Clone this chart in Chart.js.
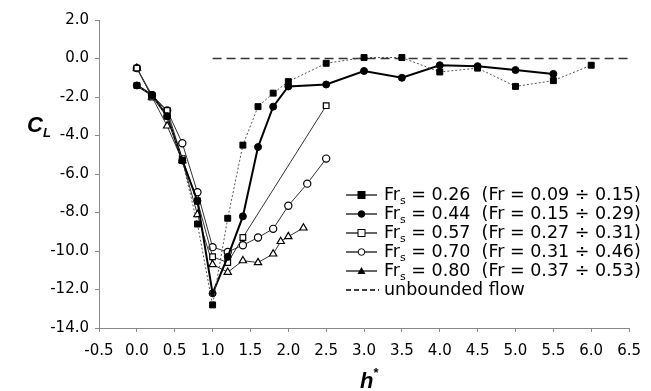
<!DOCTYPE html>
<html>
<head>
<meta charset="utf-8">
<script src="https://cdn.jsdelivr.net/npm/chart.js@4"></script>
<style>
  html, body { margin: 0; padding: 0; background: #fff; }
  #wrap { width: 651px; height: 391px; position: relative; }
</style>
</head>
<body>
<div id="wrap"><canvas id="grafico" width="651" height="391"></canvas></div>
<script>
// h* positions and C_L values for each Fr_s
const h026 = [0.0, 0.2, 0.4, 0.6, 0.8, 1.0, 1.2, 1.4, 1.6, 1.8, 2.0, 2.5, 3.0, 3.5, 4.0, 4.5, 5.0, 5.5, 6.0];
const cl026 = [-1.4, -1.9, -3.0, -5.3, -8.6, -12.8, -8.3, -4.5, -2.5, -1.8, -1.2, -0.25, 0.05, 0.05, -0.7, -0.5, -1.45, -1.15, -0.35];

const h044 = [0.0, 0.2, 0.4, 0.6, 0.8, 1.0, 1.2, 1.4, 1.6, 1.8, 2.0, 2.5, 3.0, 3.5, 4.0, 4.5, 5.0, 5.5];
const cl044 = [-1.4, -1.9, -3.0, -5.3, -7.4, -12.2, -10.3, -8.2, -4.6, -2.5, -1.45, -1.35, -0.65, -1.0, -0.35, -0.4, -0.6, -0.8];

const h057 = [0.0, 0.2, 0.4, 0.6, 0.8, 1.0, 1.2, 1.4, 2.5];
const cl057 = [-0.5, -2.0, -2.7, -5.2, -7.4, -10.3, -10.6, -9.3, -2.45];

const h070 = [0.0, 0.2, 0.4, 0.6, 0.8, 1.0, 1.2, 1.4, 1.6, 1.8, 2.0, 2.25, 2.5];
const cl070 = [-0.5, -1.9, -2.7, -4.4, -6.95, -9.8, -10.05, -9.7, -9.3, -8.85, -7.65, -6.5, -5.2];

const h080 = [0.0, 0.2, 0.4, 0.6, 0.8, 1.0, 1.2, 1.4, 1.6, 1.8, 1.9, 2.0, 2.2];
const cl080 = [-0.5, -2.0, -3.5, -5.3, -8.1, -10.7, -11.1, -10.5, -10.6, -10.15, -9.5, -9.25, -8.8];

const hUnbounded = [1.0, 6.5];
const clUnbounded = [0.0, 0.0];

const frsLabels = ['0.26', '0.44', '0.57', '0.70', '0.80'];
const frRanges = ['0.09 ÷ 0.15', '0.15 ÷ 0.29', '0.27 ÷ 0.31', '0.31 ÷ 0.46', '0.37 ÷ 0.53'];
const unboundedLabel = 'unbounded flow';

function pares(xs, ys) {
  return xs.map((x, i) => ({ x: x, y: ys[i] }));
}

const fonte = '"DejaVu Sans", "Liberation Sans", Arial, sans-serif';
const fonteTitulo = '"Liberation Sans", Arial, sans-serif';

// Legenda desenhada à mão (precisa de subscrito)
const legendaPlugin = {
  id: 'legenda',
  afterDraw(chart) {
    const c = chart.ctx;
    const x0 = 346, x1 = 377, xt = 384;
    const ys = [195, 214, 233, 252, 271, 290];
    c.save();
    chart.data.datasets.forEach((ds, i) => {
      if (i > 4) return;
      const y = ys[i];
      c.strokeStyle = '#000';
      c.lineWidth = 1.2;
      c.setLineDash([]);
      c.beginPath();
      c.moveTo(x0, y);
      c.lineTo(x1, y);
      c.stroke();
      const mx = (x0 + x1) / 2;
      c.fillStyle = ds.pointBackgroundColor === '#fff' ? '#fff' : '#000';
      c.lineWidth = 1;
      if (ds.pointStyle === 'rect') {
        c.fillRect(mx - 3.5, y - 3.5, 7, 7);
        c.strokeRect(mx - 3.5, y - 3.5, 7, 7);
      } else if (ds.pointStyle === 'circle') {
        c.beginPath();
        c.arc(mx, y, 3.3, 0, Math.PI * 2);
        c.fill();
        c.stroke();
      } else {
        c.fillStyle = '#000';
        c.beginPath();
        c.moveTo(mx, y - 4);
        c.lineTo(mx + 4, y + 3);
        c.lineTo(mx - 4, y + 3);
        c.closePath();
        c.fill();
      }
      c.fillStyle = '#000';
      c.textBaseline = 'middle';
      c.font = '17.5px ' + fonte;
      c.fillText('Fr', xt, y);
      let w = c.measureText('Fr').width;
      c.font = '11px ' + fonte;
      c.fillText('s', xt + w, y + 6);
      w += c.measureText('s').width;
      c.font = '17.5px ' + fonte;
      c.fillText(' = ' + frsLabels[i] + '  (Fr = ' + frRanges[i] + ')', xt + w, y);
    });
    // linha tracejada da legenda
    const y = ys[5];
    c.strokeStyle = '#000';
    c.lineWidth = 1.5;
    c.setLineDash([5, 3]);
    c.beginPath();
    c.moveTo(x0, y);
    c.lineTo(x1 + 2, y);
    c.stroke();
    c.setLineDash([]);
    c.fillStyle = '#000';
    c.textBaseline = 'middle';
    c.font = '17.5px ' + fonte;
    c.fillText(unboundedLabel, xt, y);

    // títulos dos eixos
    c.font = 'italic bold 22px ' + fonteTitulo;
    c.textBaseline = 'alphabetic';
    c.fillText('C', 27, 132);
    let wc = c.measureText('C').width;
    c.font = 'italic bold 13px ' + fonteTitulo;
    c.fillText('L', 27 + wc, 137);

    c.font = 'italic bold 22px ' + fonteTitulo;
    c.fillText('h', 360, 388);
    let wh = c.measureText('h').width;
    c.font = 'bold 13px ' + fonteTitulo;
    c.fillText('*', 360 + wh, 377);
    c.restore();
  }
};

const ctx = document.getElementById('grafico').getContext('2d');
const grafico = new Chart(ctx, {
  type: 'scatter',
  data: {
    datasets: [
      {
        label: 'Fr_s = 0.26',
        data: pares(h026, cl026),
        showLine: true,
        borderColor: '#555',
        borderWidth: 1,
        borderDash: [2, 2],
        pointStyle: 'rect',
        pointRadius: 4.2,
        pointBackgroundColor: '#000',
        pointBorderColor: '#000',
        pointBorderWidth: 1,
      },
      {
        label: 'Fr_s = 0.44',
        data: pares(h044, cl044),
        showLine: true,
        borderColor: '#000',
        borderWidth: 2,
        pointStyle: 'circle',
        pointRadius: 3.5,
        pointBackgroundColor: '#000',
        pointBorderColor: '#000',
        pointBorderWidth: 1,
      },
      {
        label: 'Fr_s = 0.57',
        data: pares(h057, cl057),
        showLine: true,
        borderColor: '#333',
        borderWidth: 1,
        pointStyle: 'rect',
        pointRadius: 4,
        pointBackgroundColor: '#fff',
        pointBorderColor: '#000',
        pointBorderWidth: 1.2,
      },
      {
        label: 'Fr_s = 0.70',
        data: pares(h070, cl070),
        showLine: true,
        borderColor: '#333',
        borderWidth: 1,
        pointStyle: 'circle',
        pointRadius: 3.6,
        pointBackgroundColor: '#fff',
        pointBorderColor: '#000',
        pointBorderWidth: 1.2,
      },
      {
        label: 'Fr_s = 0.80',
        data: pares(h080, cl080),
        showLine: true,
        borderColor: '#333',
        borderWidth: 1,
        pointStyle: 'triangle',
        pointRadius: 4.2,
        pointBackgroundColor: '#fff',
        pointBorderColor: '#000',
        pointBorderWidth: 1.2,
      },
      {
        label: unboundedLabel,
        data: pares(hUnbounded, clUnbounded),
        showLine: true,
        borderColor: '#333',
        borderWidth: 1.5,
        borderDash: [9, 5],
        pointRadius: 0,
      },
    ],
  },
  options: {
    responsive: false,
    animation: false,
    layout: { padding: { top: 20, right: 14, left: 0, bottom: 0 } },
    scales: {
      x: {
        type: 'linear',
        min: -0.5,
        max: 6.5,
        afterFit(scale) { scale.height = 63; },
        ticks: {
          stepSize: 0.5,
          color: '#000',
          padding: 10,
          font: { family: fonte, size: 15 },
          callback: (v) => Number(v).toFixed(1),
        },
        border: { color: '#888', width: 1 },
        grid: { drawOnChartArea: false, drawTicks: true, tickLength: 4, color: '#888' },
      },
      y: {
        type: 'linear',
        min: -14,
        max: 2,
        afterFit(scale) { scale.width = 99; },
        ticks: {
          stepSize: 2,
          color: '#000',
          padding: 6,
          font: { family: fonte, size: 15 },
          callback: (v) => Number(v).toFixed(1),
        },
        border: { color: '#888', width: 1 },
        grid: { drawOnChartArea: false, drawTicks: true, tickLength: 4, color: '#888' },
      },
    },
    plugins: {
      legend: { display: false },
      tooltip: { enabled: false },
    },
  },
  plugins: [legendaPlugin],
});
</script>
</body>
</html>
